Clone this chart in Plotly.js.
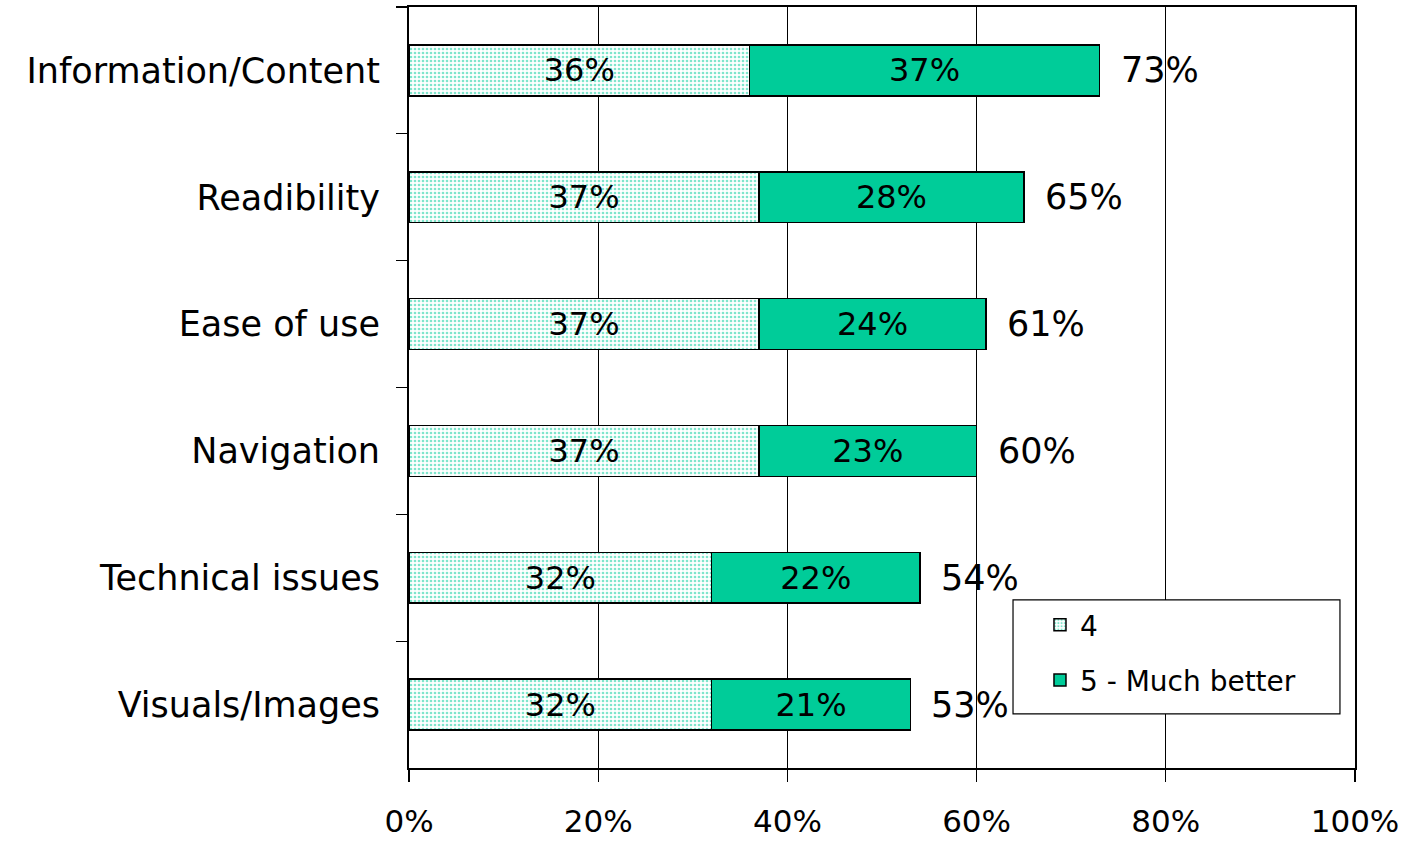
<!DOCTYPE html>
<html>
<head>
<meta charset="utf-8">
<script src="https://cdn.plot.ly/plotly-3.0.1.min.js"></script>
<style>html,body{margin:0;padding:0;background:#fff;}#chart{width:1418px;height:842px;}</style>
</head>
<body>
<div id="chart"></div>
<script>
const categories = ["Information/Content", "Readibility", "Ease of use", "Navigation", "Technical issues", "Visuals/Images"];
const series4 = [36, 37, 37, 37, 32, 32];
const series5 = [37, 28, 24, 23, 22, 21];
const totals = [73, 65, 61, 60, 54, 53];
const seriesNames = ["4", "5 - Much better"];
const xTickVals = [0, 20, 40, 60, 80, 100];
const xTickText = ["0%", "20%", "40%", "60%", "80%", "100%"];

const FONT = "DejaVu Sans, Verdana, sans-serif";
const GREEN = "#00CC99";

const trace4 = {
  type: "bar", orientation: "h", name: seriesNames[0],
  y: categories, x: series4, width: 0.4,
  legendgroup: "a",
  marker: {
    color: "#ffffff",
    pattern: {shape: ".", fgcolor: GREEN, bgcolor: "#ffffff", size: 4, solidity: 0.36, fillmode: "overlay"},
    line: {color: "#000000", width: 1.5}
  },
  text: series4.map(v => v + "%"), texttemplate: "%{text}",
  textposition: "inside", insidetextanchor: "middle",
  textangle: 0, constraintext: "none",
  insidetextfont: {family: FONT, size: 32, color: "#000000"},
  hoverinfo: "skip"
};
const trace5 = {
  type: "bar", orientation: "h", name: seriesNames[1],
  y: categories, x: series5, width: 0.4,
  legendgroup: "b",
  marker: {color: GREEN, line: {color: "#000000", width: 1.5}},
  text: series5.map(v => v + "%"), texttemplate: "%{text}",
  textposition: "inside", insidetextanchor: "middle",
  textangle: 0, constraintext: "none",
  insidetextfont: {family: FONT, size: 32, color: "#000000"},
  hoverinfo: "skip"
};

const annotations = categories.map((c, i) => ({
  x: totals[i], y: c, xref: "x", yref: "y",
  text: totals[i] + "%", showarrow: false,
  xanchor: "left", yanchor: "middle", xshift: 19,
  font: {family: FONT, size: 35, color: "#000000"}
}));

const layout = {
  width: 1418, height: 842,
  margin: {l: 409, r: 63, t: 7, b: 74, pad: 0},
  paper_bgcolor: "#ffffff", plot_bgcolor: "#ffffff",
  barmode: "stack",
  showlegend: true,
  font: {family: FONT, color: "#000000"},
  xaxis: {
    range: [0, 100], tickvals: xTickVals, ticktext: xTickText,
    ticks: "outside", ticklen: 12, tickwidth: 1.2, tickcolor: "#000000",
    showgrid: true, gridcolor: "#000000", gridwidth: 1.2,
    zeroline: false, showline: true, linecolor: "#000000", linewidth: 2, mirror: true,
    tickfont: {family: FONT, size: 31, color: "#000000"},
    ticklabelstandoff: 13, fixedrange: true
  },
  yaxis: {
    type: "category", autorange: "reversed",
    tickson: "boundaries", ticks: "outside", ticklen: 11, tickwidth: 1.2, tickcolor: "#000000",
    showgrid: false, zeroline: false,
    showline: true, linecolor: "#000000", linewidth: 2, mirror: true,
    tickfont: {family: FONT, size: 35, color: "#000000"},
    ticklabelstandoff: 20, fixedrange: true
  },
  shapes: [{
    type: "rect", xref: "paper", yref: "paper", layer: "above",
    x0: 0.6385, x1: 0.9841, y0: 0.071, y1: 0.2208,
    fillcolor: "#ffffff", line: {color: "#000000", width: 1.2}
  }],
  legend: {
    x: 0.667, xanchor: "left", y: 0.2208, yanchor: "top",
    bgcolor: "rgba(0,0,0,0)", borderwidth: 0,
    font: {family: FONT, size: 28, color: "#000000"},
    traceorder: "grouped", tracegroupgap: 16
  },
  annotations: annotations
};

Plotly.newPlot("chart", [trace4, trace5], layout, {displayModeBar: false, staticPlot: true});
</script>
</body>
</html>
